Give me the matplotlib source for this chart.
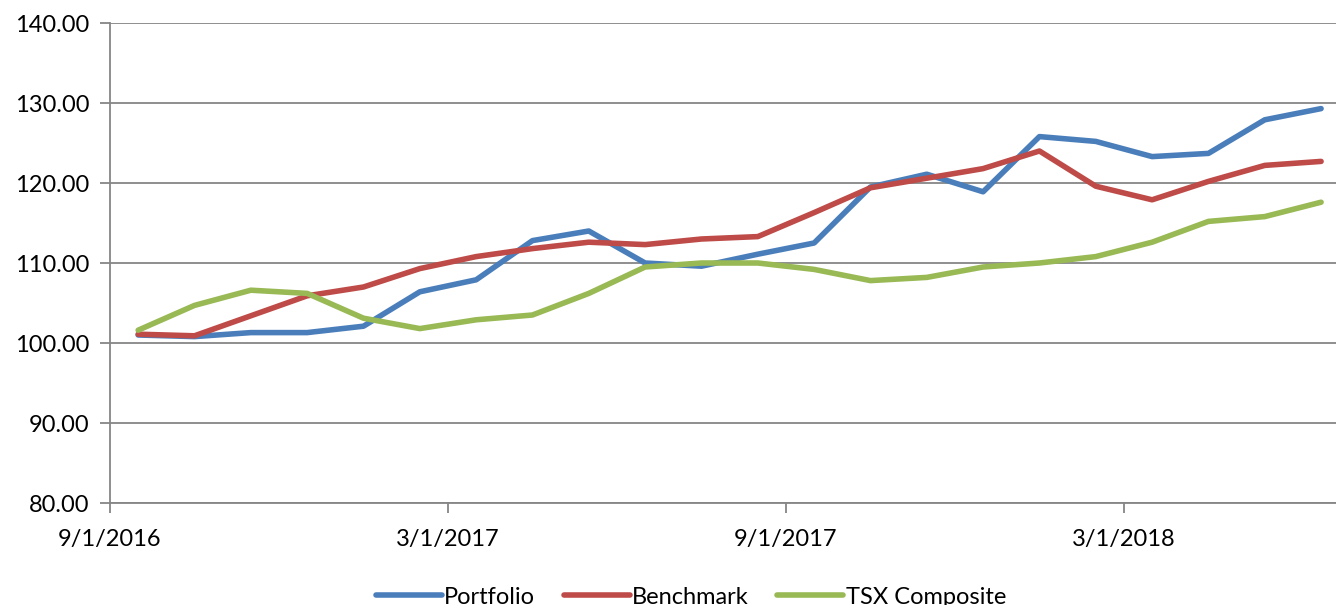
import matplotlib.pyplot as plt
import numpy as np

plt.rcParams['font.family'] = ['Lato', 'DejaVu Sans']

months = ['9/2016', '10/2016', '11/2016', '12/2016', '1/2017', '2/2017', '3/2017', '4/2017',
          '5/2017', '6/2017', '7/2017', '8/2017', '9/2017', '10/2017', '11/2017', '12/2017',
          '1/2018', '2/2018', '3/2018', '4/2018', '5/2018', '6/2018']
portfolio = [101.0, 100.8, 101.3, 101.3, 102.1, 106.4, 107.9, 112.8, 114.0, 110.0, 109.6,
             111.1, 112.5, 119.5, 121.1, 118.9, 125.8, 125.2, 123.3, 123.7, 127.9, 129.3]
benchmark = [101.1, 100.9, 103.4, 105.9, 107.0, 109.3, 110.8, 111.8, 112.6, 112.3, 113.0,
             113.3, 116.3, 119.4, 120.6, 121.8, 124.0, 119.6, 117.9, 120.2, 122.2, 122.7]
tsx = [101.6, 104.7, 106.6, 106.2, 103.1, 101.8, 102.9, 103.5, 106.2, 109.5, 110.0,
       110.0, 109.2, 107.8, 108.2, 109.5, 110.0, 110.8, 112.6, 115.2, 115.8, 117.6]
tick_labels = ['9/1/2016', '3/1/2017', '9/1/2017', '3/1/2018']

x = np.arange(len(months)) + 0.5

fig = plt.figure(figsize=(13.36, 6.05), dpi=100)
ax = fig.add_axes([110 / 1336, 1 - 503 / 605, 1 - 110 / 1336, 480 / 605])

ax.plot(x, portfolio, color='#4A7EBB', lw=4, label='Portfolio', solid_capstyle='round')
ax.plot(x, benchmark, color='#BE4B48', lw=4, label='Benchmark', solid_capstyle='round')
ax.plot(x, tsx, color='#98B954', lw=4, label='TSX Composite', solid_capstyle='round')

ax.set_xlim(0, 1226 / 56.33)
ax.set_ylim(80, 140)
ax.set_yticks(np.arange(80, 141, 10))
ax.set_yticklabels(['%.2f' % v for v in np.arange(80, 141, 10)])
ax.set_xticks([0, 6, 12, 18])
ax.set_xticklabels(tick_labels)

ax.grid(axis='y', color='#868686', lw=1.3)
ax.set_axisbelow(True)
for s in ['top', 'right']:
    ax.spines[s].set_visible(False)
for s in ['left', 'bottom']:
    ax.spines[s].set_color('#868686')
    ax.spines[s].set_linewidth(1.3)
ax.tick_params(axis='both', colors='#868686', labelcolor='black', labelsize=17,
               length=7, width=1.3)
ax.tick_params(axis='y', pad=8)
ax.tick_params(axis='x', pad=12)

ax.legend(loc='upper center', bbox_to_anchor=(0.5 - 32 / 1226, -0.13), ncol=3, frameon=False,
          fontsize=17, handlelength=2.8, handletextpad=0.1, columnspacing=1.2)

fig.savefig('out.png', dpi=100)
